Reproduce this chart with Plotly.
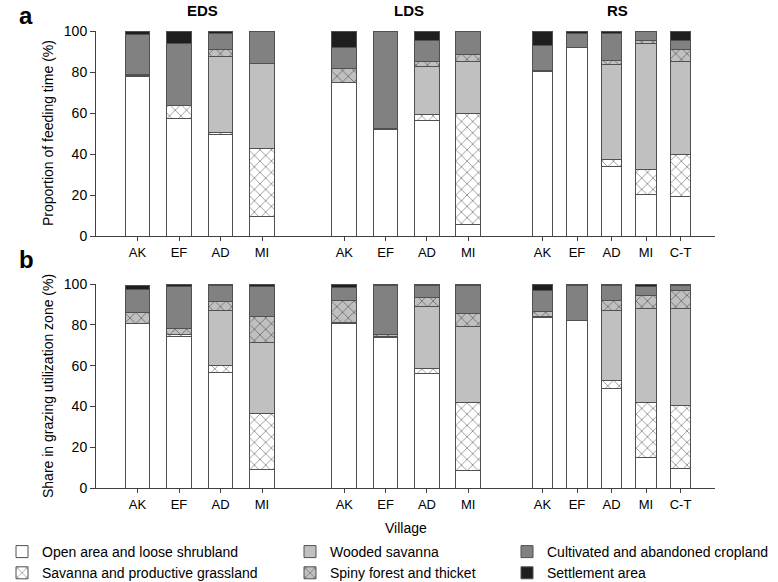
import plotly.graph_objects as go

# ---------------- data ----------------
categories = [
    "Open area and loose shrubland",
    "Savanna and productive grassland",
    "Wooded savanna",
    "Spiny forest and thicket",
    "Cultivated and abandoned cropland",
    "Settlement area",
]
groups = ["EDS", "LDS", "RS"]
villages_eds = ["AK", "EF", "AD", "MI"]
villages_lds = ["AK", "EF", "AD", "MI"]
villages_rs = ["AK", "EF", "AD", "MI", "C-T"]

# (a) Proportion of feeding time (%), segment sizes in category order
feed_eds = [
    [78.0, 57.5, 49.5, 9.5],
    [0.3, 6.0, 0.8, 33.0],
    [0.0, 0.0, 37.2, 41.7],
    [0.5, 0.0, 3.5, 0.0],
    [19.7, 30.5, 8.0, 15.8],
    [1.5, 6.0, 1.0, 0.0],
]
feed_lds = [
    [75.0, 52.0, 56.2, 5.5],
    [0.0, 0.3, 3.2, 54.5],
    [0.0, 0.0, 23.5, 25.3],
    [6.5, 0.3, 2.4, 3.0],
    [10.5, 47.4, 10.2, 11.7],
    [8.0, 0.0, 4.5, 0.0],
]
feed_rs = [
    [80.3, 91.8, 33.8, 20.2, 19.3],
    [0.0, 0.0, 3.6, 12.3, 20.7],
    [0.0, 0.0, 46.1, 61.3, 45.3],
    [0.5, 0.0, 2.3, 1.6, 5.7],
    [12.2, 6.9, 13.0, 4.6, 4.6],
    [7.0, 1.3, 1.2, 0.0, 4.4],
]

# (b) Share in grazing utilization zone (%)
zone_eds = [
    [80.5, 74.3, 56.7, 9.2],
    [0.3, 0.8, 3.3, 27.5],
    [0.0, 0.0, 26.8, 34.5],
    [5.3, 3.0, 4.5, 13.0],
    [11.4, 20.9, 8.2, 14.8],
    [2.0, 0.8, 0.5, 0.8],
]
zone_lds = [
    [80.8, 73.7, 56.2, 8.4],
    [0.3, 0.5, 2.4, 33.7],
    [0.0, 0.0, 30.4, 37.3],
    [10.8, 1.0, 4.2, 6.2],
    [6.3, 24.3, 6.3, 13.6],
    [1.5, 0.5, 0.5, 0.6],
]
zone_rs = [
    [83.8, 82.0, 48.6, 15.0, 9.6],
    [0.3, 0.0, 4.0, 26.7, 31.0],
    [0.0, 0.0, 34.6, 46.2, 47.6],
    [2.5, 0.0, 4.7, 6.5, 8.5],
    [10.3, 17.3, 7.6, 4.6, 2.8],
    [2.8, 0.5, 0.5, 0.8, 0.5],
]

yticks = [0, 20, 40, 60, 80, 100]

# ---------------- styling ----------------
W, H = 778, 582
ML, MR, MT, MB = 96, 63, 31, 94
PW, PH = W - ML - MR, H - MT - MB


def xp(px):
    return (px - ML) / PW


def yp(py):
    return (H - MB - py) / PH


FONT = "Liberation Sans, Arial, sans-serif"
EDGE = "#505050"
hatch = dict(shape="x", fgcolor="#1a1a1a", size=8, solidity=0.2)
marker_styles = [
    dict(color="white"),
    dict(color="white", pattern=dict(hatch, bgcolor="white")),
    dict(color="#c0c0c0"),
    dict(color="#c0c0c0", pattern=dict(hatch, bgcolor="#c0c0c0")),
    dict(color="#818181"),
    dict(color="#1e1e1e"),
]
legend_of = ["legend", "legend", "legend2", "legend2", "legend3", "legend3"]

panels = [
    ("y", ["x", "x2", "x3"], [feed_eds, feed_lds, feed_rs]),
    ("y2", ["x4", "x5", "x6"], [zone_eds, zone_lds, zone_rs]),
]
village_lists = [villages_eds, villages_lds, villages_rs]

fig = go.Figure()
first = True
for yax, xaxes, datasets in panels:
    for xax, data, vill in zip(xaxes, datasets, village_lists):
        for ci, cat in enumerate(categories):
            m = dict(marker_styles[ci])
            m["line"] = dict(color=EDGE, width=1)
            fig.add_trace(go.Bar(
                x=vill, y=data[ci], name=cat, xaxis=xax, yaxis=yax,
                marker=m, legendgroup=cat, showlegend=first,
                legend=legend_of[ci],
            ))
        first = False

# x domains (pixels -> paper)
x_domains = [[0, xp(303)], [xp(303), xp(506)], [xp(506), 1]]
x_ranges = [[-1.0, 3.988], [-1.0, 3.915], [-1.058, 5.0]]
y_dom_a = [yp(236), 1]
y_dom_b = [0, yp(284)]

axis_common = dict(
    showline=True, linecolor="#404040", linewidth=1, ticks="outside",
    ticklen=4, tickcolor="#404040", showgrid=False, zeroline=False,
    tickfont=dict(family=FONT, size=13, color="black"), type="category",
)
layout_axes = {}
for i in range(6):
    name = "xaxis" if i == 0 else f"xaxis{i + 1}"
    layout_axes[name] = dict(
        axis_common, domain=x_domains[i % 3], range=x_ranges[i % 3],
        anchor="y" if i < 3 else "y2",
    )
yaxis_common = dict(
    showline=True, linecolor="#404040", linewidth=1, ticks="outside",
    ticklen=5, tickcolor="#404040", showgrid=False, zeroline=False,
    range=[0, 100], tickvals=yticks, ticktext=[str(v) for v in yticks],
    tickfont=dict(family=FONT, size=14, color="black"),
)
layout_axes["yaxis"] = dict(yaxis_common, domain=y_dom_a, anchor="x")
layout_axes["yaxis2"] = dict(yaxis_common, domain=y_dom_b, anchor="x4")

legend_common = dict(
    orientation="v", xanchor="left", yanchor="top", traceorder="normal",
    xref="container", yref="container",
    bgcolor="rgba(0,0,0,0)", font=dict(family=FONT, size=14, color="black"),
    itemwidth=30, tracegroupgap=3,
)

annotations = []


def ann(text, px, py, size, bold=False, angle=0, yanchor="middle"):
    annotations.append(dict(
        text=f"<b>{text}</b>" if bold else text, x=xp(px), y=yp(py),
        xref="paper", yref="paper", showarrow=False, textangle=angle,
        xanchor="center", yanchor=yanchor,
        font=dict(family=FONT, size=size, color="black"),
    ))


ann("a", 26, 0, 24, bold=True, yanchor="top")
ann("b", 26, 259, 24, bold=True)
ann("EDS", 202, 10, 15, bold=True)
ann("LDS", 409, 10, 15, bold=True)
ann("RS", 617, 10, 15, bold=True)
ann("Proportion of feeding time (%)", 48, 133, 14, angle=-90)
ann("Share in grazing utilization zone (%)", 48, 386, 14, angle=-90)
ann("Village", 406, 528, 14)

fig.update_layout(
    width=W, height=H,
    margin=dict(l=ML, r=MR, t=MT, b=MB, autoexpand=False),
    paper_bgcolor="white", plot_bgcolor="white",
    barmode="stack", bargap=0.4,
    font=dict(family=FONT, size=13, color="black"),
    annotations=annotations,
    legend=dict(legend_common, x=2 / W, y=1 - 536 / H),
    legend2=dict(legend_common, x=290 / W, y=1 - 536 / H),
    legend3=dict(legend_common, x=507 / W, y=1 - 536 / H),
    **layout_axes,
)

fig.write_html(
    "out.html",
    config={"displayModeBar": False},
    post_script="document.body.style.margin='0';document.body.style.overflow='hidden';",
)
